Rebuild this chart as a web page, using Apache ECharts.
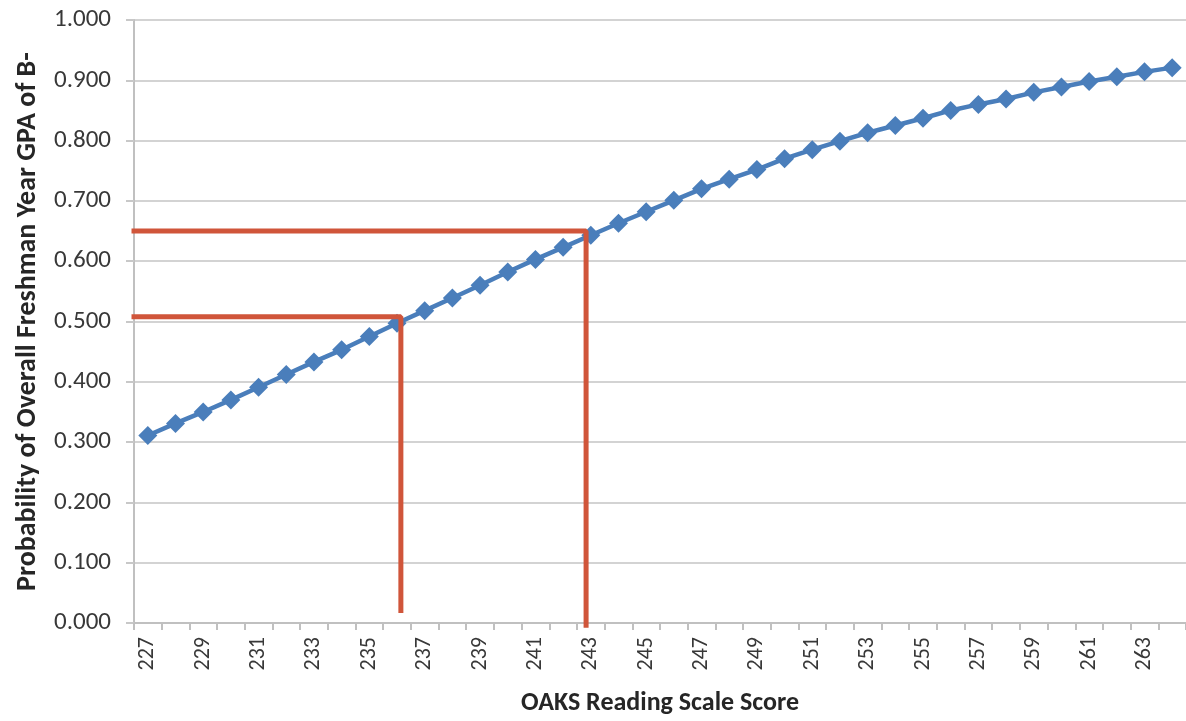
<!DOCTYPE html>
<html>
<head>
<meta charset="utf-8">
<script src="https://cdn.jsdelivr.net/npm/echarts@6/dist/echarts.min.js"></script>
<style>
html,body{margin:0;padding:0;background:#fff;}
#chart{width:1186px;height:721px;}
</style>
</head>
<body>
<div id="chart"></div>
<script>
// ---- data ----
const scores = [227,228,229,230,231,232,233,234,235,236,237,238,239,240,241,242,243,244,245,246,
                247,248,249,250,251,252,253,254,255,256,257,258,259,260,261,262,263,264];
const probability = [0.311,0.331,0.350,0.370,0.391,0.412,0.433,0.453,0.475,0.497,
                     0.518,0.539,0.560,0.582,0.603,0.623,0.643,0.663,0.682,0.701,
                     0.720,0.736,0.752,0.770,0.785,0.799,0.813,0.825,0.837,0.850,
                     0.860,0.869,0.880,0.889,0.898,0.906,0.914,0.921];
// annotation guides (score position, probability)
const guideHigh = [[226.41,0.650],[242.83,0.650],[242.83,-0.008]];
const guideLow  = [[226.41,0.508],[236.14,0.508],[236.14,0.0165]];

const FONT = 'Carlito, Lato, "Liberation Sans", sans-serif';
const chart = echarts.init(document.getElementById('chart'), null, {renderer:'canvas'});
chart.setOption({
  animation:false,
  backgroundColor:'#ffffff',
  grid:{left:134, right:-2, top:20, bottom:96, containLabel:false},
  xAxis:[{
    type:'category',
    data: scores.map(String),
    boundaryGap:true,
    name:'OAKS Reading Scale Score',
    nameLocation:'middle',
    nameGap:67,
    nameTextStyle:{fontFamily:FONT, fontWeight:'bold', fontSize:26, color:'#262626'},
    axisLine:{show:true, lineStyle:{color:'#c0c0c0', width:2}},
    axisTick:{show:true, interval:0, length:7, inside:false, lineStyle:{color:'#c0c0c0', width:2}},
    axisLabel:{interval:1, rotate:90, margin:14, fontFamily:FONT, fontSize:22, color:'#383838'},
    splitLine:{show:false}
  },{
    type:'value', min:226.5, max:264.5, show:false
  }],
  yAxis:{
    type:'value', min:0, max:1, interval:0.1,
    name:'Probability of Overall Freshman Year GPA of B-',
    nameLocation:'middle',
    nameGap:92,
    nameRotate:90,
    nameTextStyle:{fontFamily:FONT, fontWeight:'bold', fontSize:28, color:'#262626'},
    axisLine:{show:true, lineStyle:{color:'#c0c0c0', width:2}},
    axisTick:{show:true, length:8, lineStyle:{color:'#c8c8c8', width:2}},
    axisLabel:{margin:23, fontFamily:FONT, fontSize:25, color:'#383838',
               formatter:v=>v.toFixed(3)},
    splitLine:{show:true, lineStyle:{color:'#d3d3d3', width:2}}
  },
  series:[{
    type:'line',
    data:probability,
    xAxisIndex:0,
    symbol:'diamond',
    symbolSize:19,
    showAllSymbol:true,
    smooth:false,
    lineStyle:{color:'#4a7ebb', width:4.5},
    itemStyle:{color:'#4a7ebb'},
    z:2
  },{
    type:'line', xAxisIndex:1, data:guideHigh, symbol:'none', clip:false,
    lineStyle:{color:'#d0553a', width:5}, z:3
  },{
    type:'line', xAxisIndex:1, data:guideLow, symbol:'none', clip:false,
    lineStyle:{color:'#d0553a', width:5}, z:3
  }]
});
</script>
</body>
</html>
